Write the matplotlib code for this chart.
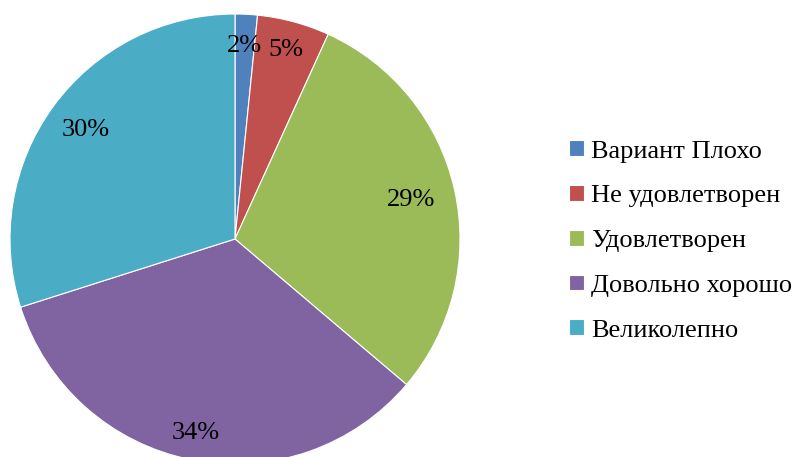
import numpy as np
import matplotlib.pyplot as plt

categories = ["Вариант Плохо", "Не удовлетворен", "Удовлетворен", "Довольно хорошо", "Великолепно"]
values = [1.6, 5.2, 29.4, 33.9, 29.9]
colors = ["#4F81BD", "#C0504D", "#9BBB59", "#8064A2", "#4BACC6"]

plt.rcParams["font.family"] = ["Liberation Serif", "DejaVu Serif"]

W, H = 795, 457
fig = plt.figure(figsize=(W / 100, H / 100), dpi=100)

# pie centre (235, 239) px, radius 225 px
cx, cy, r = 235, 239, 225
ax = fig.add_axes([(cx - r) / W, (H - cy - r) / H, 2 * r / W, 2 * r / H])

wedges, texts, autotexts = ax.pie(
    values, colors=colors, startangle=90, counterclock=False, radius=1,
    autopct="%.0f%%", pctdistance=0.84,
    wedgeprops=dict(edgecolor="white", linewidth=0.8),
    textprops=dict(fontsize=19, color="black"),
)
for w in wedges:
    w.set_clip_on(False)

# label distance from centre, roughly as placed in the reference
label_dist = [0.86, 0.87, 0.80, 0.88, 0.82]
for w, t, d in zip(wedges, autotexts, label_dist):
    ang = np.deg2rad((w.theta1 + w.theta2) / 2)
    t.set_position((d * np.cos(ang), d * np.sin(ang)))

ax.set_xlim(-1, 1)
ax.set_ylim(-1, 1)
ax.axis("off")

fig.legend(wedges, categories, loc="center left", bbox_to_anchor=(569 / W, 1 - 241 / H),
           frameon=False, fontsize=19, handlelength=0.55, handleheight=0.55,
           handletextpad=0.3, labelspacing=0.85, borderpad=0, borderaxespad=0)

fig.savefig("out.png", dpi=100)
